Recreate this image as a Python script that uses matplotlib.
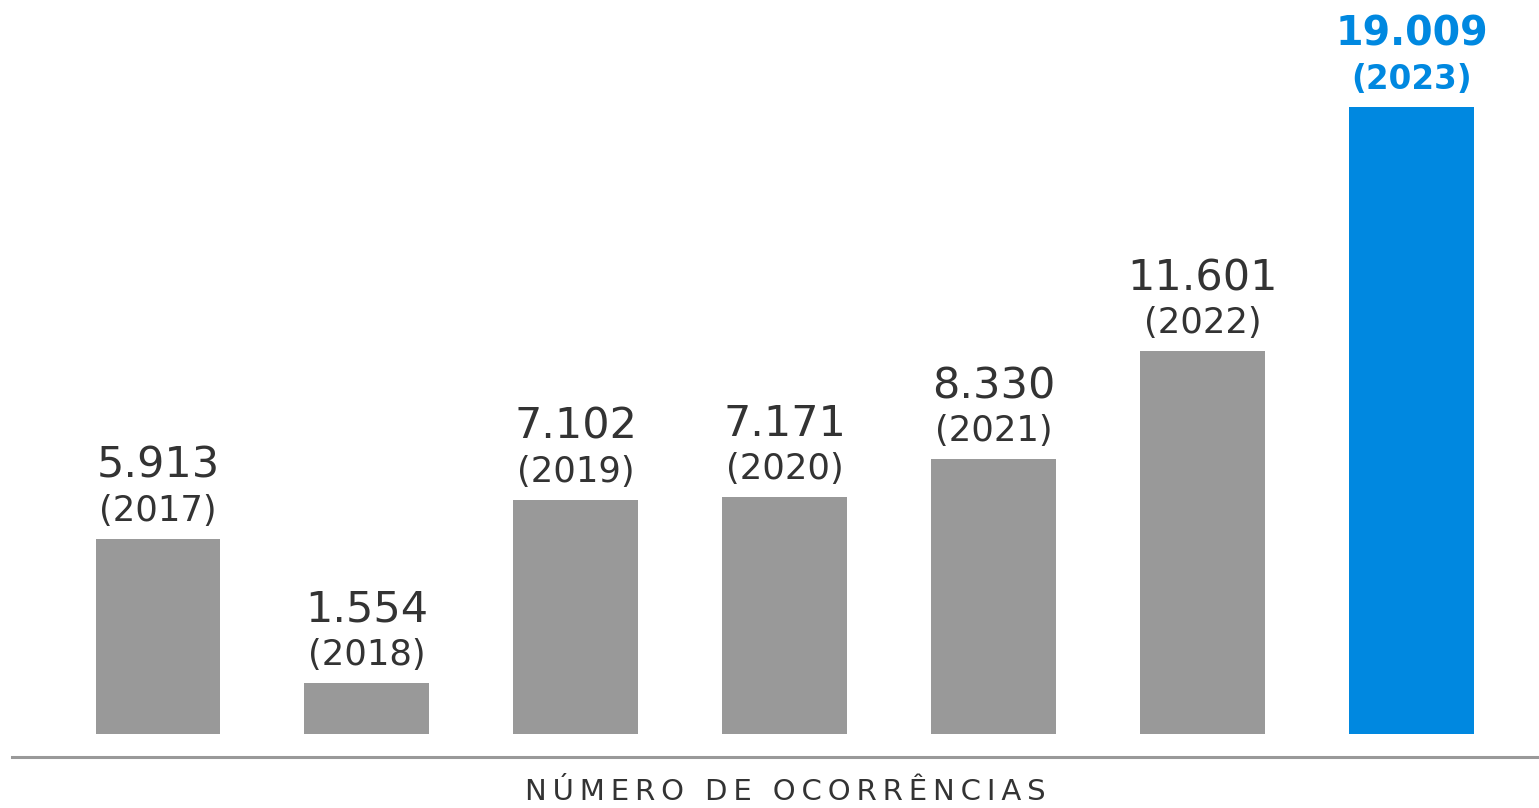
import matplotlib
matplotlib.use("Agg")
import matplotlib.pyplot as plt
from matplotlib.lines import Line2D

years = ["2017", "2018", "2019", "2020", "2021", "2022", "2023"]
values = [5913, 1554, 7102, 7171, 8330, 11601, 19009]
value_labels = ["5.913", "1.554", "7.102", "7.171", "8.330", "11.601", "19.009"]
xlabel = "NÚMERO DE OCORRÊNCIAS"

gray = "#999999"
blue = "#0088E0"
txt = "#333333"

W, H = 1539, 808
fig = plt.figure(figsize=(W / 100, H / 100), dpi=100)
ax = fig.add_axes([0, 74 / H, 1, 734 / H])
ax.set_axis_off()

x = list(range(len(years)))
colors = [gray] * (len(years) - 1) + [blue]
ax.bar(x, values, width=0.598, color=colors)
ax.set_xlim(-0.756, 6.608)
ax.set_ylim(0, 22253)

for i, (v, lab, yr) in enumerate(zip(values, value_labels, years)):
    last = i == len(years) - 1
    c = blue if last else txt
    w = "bold" if last else "normal"
    ax.annotate(lab, (i, v), xytext=(0, 44), textcoords="offset points",
                ha="center", va="baseline", fontsize=31 if not last else 28.5,
                color=c, fontweight=w, family="DejaVu Sans")
    ax.annotate(f"({yr})", (i, v), xytext=(0, 13), textcoords="offset points",
                ha="center", va="baseline", fontsize=25.5 if not last else 23.5,
                color=c, fontweight=w, family="DejaVu Sans")

fig.add_artist(Line2D([12 / W, 1.0], [1 - 757 / H, 1 - 757 / H],
                      transform=fig.transFigure, color=gray, linewidth=2.2))
spaced = "\u2009".join(xlabel)
fig.text(785 / W, 1 - 792 / H, spaced, ha="center", va="center",
         fontsize=21, color=txt, family="DejaVu Sans")

fig.savefig("out.png", dpi=100)
